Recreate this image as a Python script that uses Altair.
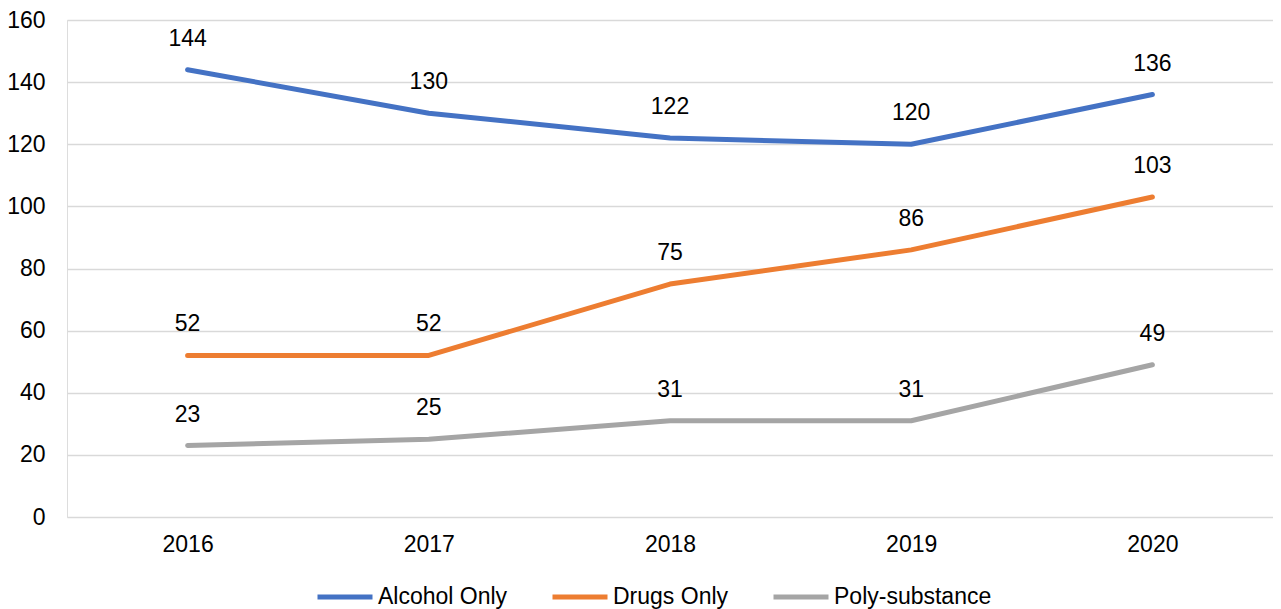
import altair as alt
import pandas as pd

years = ["2016", "2017", "2018", "2019", "2020"]
series = ["Alcohol Only", "Drugs Only", "Poly-substance"]
alcohol = [144, 130, 122, 120, 136]
drugs = [52, 52, 75, 86, 103]
poly = [23, 25, 31, 31, 49]
colors = ["#4472C4", "#ED7D31", "#A5A5A5"]

rows = []
for name, vals in zip(series, [alcohol, drugs, poly]):
    for y, v in zip(years, vals):
        rows.append({"Year": y, "Series": name, "Value": v})
df = pd.DataFrame(rows)

FONT = "Liberation Sans"

x = alt.X("Year:N", sort=years, title=None,
          scale=alt.Scale(type="point", padding=0.5),
          axis=alt.Axis(labelAngle=0, ticks=False, domain=False, labelPadding=16,
                        labelFontSize=23, labelColor="#000000", labelFont=FONT))
y = alt.Y("Value:Q", title=None,
          scale=alt.Scale(domain=[0, 160], nice=False),
          axis=alt.Axis(values=list(range(0, 161, 20)), ticks=False, domain=False,
                        grid=True, gridColor="#D9D9D9", gridWidth=1.5,
                        labelPadding=22, labelFontSize=23, labelColor="#000000",
                        labelFont=FONT))
color = alt.Color("Series:N", sort=series,
                  scale=alt.Scale(domain=series, range=colors),
                  legend=alt.Legend(title=None, orient="none", direction="horizontal",
                                    legendX=248, legendY=547,
                                    symbolType="stroke", symbolSize=3025,
                                    symbolStrokeWidth=5, labelFontSize=23,
                                    labelFont=FONT, labelColor="#000000",
                                    labelOffset=3, columnPadding=34,
                                    labelLimit=400, padding=0))

lines = alt.Chart(df).mark_line(strokeWidth=5, strokeCap="round", strokeJoin="round").encode(
    x=x, y=y, color=color)

labels = alt.Chart(df).mark_text(dy=-24, baseline="alphabetic", align="center",
                                 fontSize=23, font=FONT, color="#000000").encode(
    x=alt.X("Year:N", sort=years), y=alt.Y("Value:Q"), text="Value:Q")

chart = alt.layer(lines, labels).properties(
    width=1206, height=497,
    autosize=alt.AutoSizeParams(type="none"),
    padding={"left": 59, "top": 12, "right": 0, "bottom": 92},
).configure_view(stroke=None).configure(background="white")

chart.save("out.html", embed_options={"renderer": "svg", "actions": False})
